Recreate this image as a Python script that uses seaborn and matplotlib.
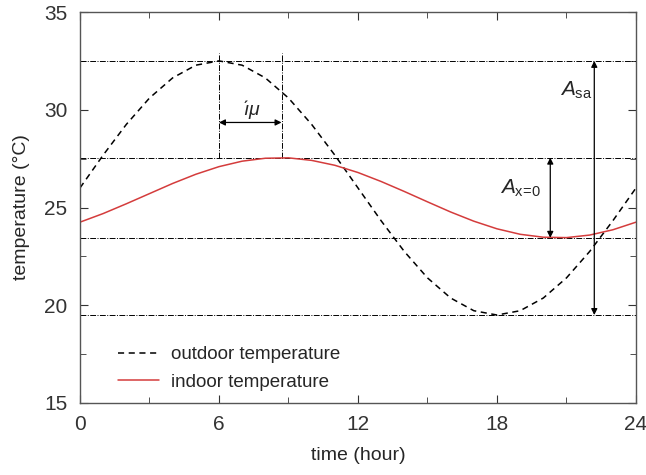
import numpy as np
import pandas as pd
import matplotlib
matplotlib.use("Agg")
import matplotlib.pyplot as plt
import seaborn as sns

# Chart style
sns.set_style("ticks")
plt.rcParams["font.family"] = ["Liberation Sans", "DejaVu Sans"]
plt.rcParams["mathtext.fontset"] = "custom"
plt.rcParams["mathtext.rm"] = "Liberation Sans"
plt.rcParams["mathtext.it"] = "Liberation Sans:italic"

# Values (hourly)
hours = list(range(25))
outdoor = [26.00, 27.68, 29.25, 30.60, 31.63, 32.28, 32.50, 32.28, 31.63, 30.60,
           29.25, 27.68, 26.00, 24.32, 22.75, 21.40, 20.37, 19.72, 19.50, 19.72,
           20.37, 21.40, 22.75, 24.32, 26.00]
indoor = [24.25, 24.69, 25.19, 25.71, 26.23, 26.70, 27.09, 27.37, 27.52, 27.54,
          27.41, 27.16, 26.79, 26.33, 25.82, 25.29, 24.77, 24.30, 23.91, 23.63,
          23.48, 23.46, 23.59, 23.86, 24.25]

out_max, out_min = 32.5, 19.5
in_max, in_min = 27.55, 23.45
out_peak_t, in_peak_t = 6.0, 8.7

df = pd.DataFrame({"time": hours + hours,
                   "temp": outdoor + indoor,
                   "series": ["outdoor temperature"] * 25 + ["indoor temperature"] * 25})

fig = plt.figure(figsize=(6.46, 4.75), dpi=100)
ax = fig.add_axes([0.1238, 0.1516, 0.8607, 0.8231])

sns.lineplot(data=df, x="time", y="temp", hue="series", style="series",
             palette={"outdoor temperature": "black", "indoor temperature": "#d43c3c"},
             dashes={"outdoor temperature": (4, 3), "indoor temperature": ""},
             linewidth=1.1, ax=ax)

# reference lines
dashdot = (0, (6, 1.5, 1, 1.5))
for v in [out_max, in_max, in_min, out_min]:
    ax.axhline(v, color="black", lw=0.7, ls=dashdot, zorder=1)
for t in [out_peak_t, in_peak_t]:
    ax.plot([t, t], [in_max, 32.9], color="black", lw=0.7, ls=dashdot, zorder=1)

arrow = dict(arrowstyle="<|-|>", color="black", lw=0.9, mutation_scale=9, shrinkA=0, shrinkB=0)
ax.annotate("", xy=(out_peak_t, 29.35), xytext=(in_peak_t, 29.35), arrowprops=arrow)
ax.annotate("", xy=(22.2, out_max), xytext=(22.2, out_min), arrowprops=arrow)
ax.annotate("", xy=(20.3, in_max), xytext=(20.3, in_min), arrowprops=arrow)

ax.text(7.4, 29.95, r"$\acute{\imath}\mu$", fontsize=14, ha="center", va="center")
ax.text(21.4, 31.0, r"$A_{\mathrm{sa}}$", fontsize=15, ha="center", va="center")
ax.text(19.0, 26.0, r"$A_{\mathrm{x}\!=\!\mathrm{0}}$", fontsize=15, ha="center", va="center")

ax.set_xlim(0, 24)
ax.set_ylim(15, 35)
ax.set_xticks([0, 6, 12, 18, 24])
ax.set_xticks([3, 9, 15, 21], minor=True)
ax.set_yticks([15, 20, 25, 30, 35])
ax.set_yticks([17.5, 22.5, 27.5, 32.5], minor=True)
ax.tick_params(axis="both", which="both", direction="in", top=True, right=True,
               labelsize=15, colors="#333333", pad=9)
ax.tick_params(which="major", length=6)
ax.tick_params(which="minor", length=4)
for s in ax.spines.values():
    s.set_color("#555555")
    s.set_linewidth(1.0)

ax.set_xlabel("time (hour)", fontsize=14, labelpad=9)
ax.set_ylabel("temperature (°C)", fontsize=14, labelpad=10)

ax.legend(loc="lower left", bbox_to_anchor=(0.055, 0.012), frameon=False,
          fontsize=13.5, handlelength=2.2, labelspacing=0.55, handletextpad=0.6,
          borderaxespad=0)

plt.savefig("out.png", dpi=100)
